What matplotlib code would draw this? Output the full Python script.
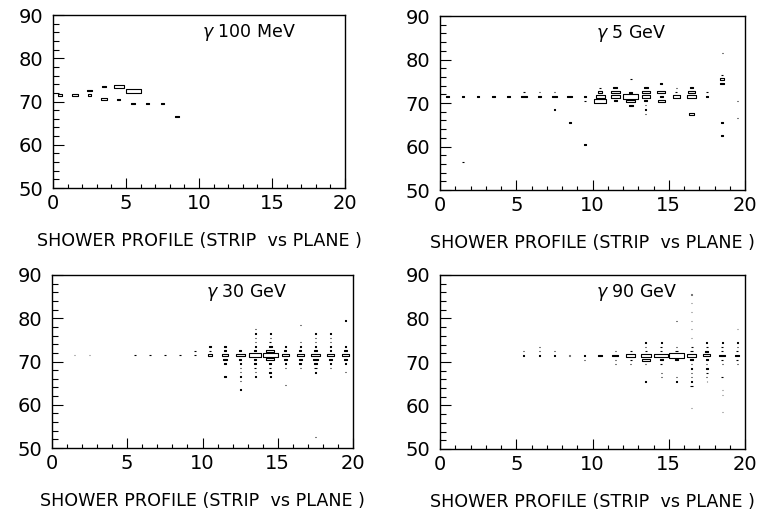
import numpy as np
import matplotlib
matplotlib.use("Agg")
import matplotlib.pyplot as plt
from matplotlib.patches import Rectangle
from matplotlib.collections import PatchCollection
from matplotlib.ticker import MultipleLocator

# (strip bin centre, plane bin centre, content) for each energy
cells_100mev = [
    (0.5, 71.5, 25), (1.5, 71.5, 45), (2.5, 72.5, 30), (2.5, 71.5, 25),
    (3.5, 73.5, 25), (3.5, 70.5, 40), (4.5, 73.5, 70), (4.5, 70.5, 20),
    (5.5, 72.5, 100), (5.5, 69.5, 25), (6.5, 69.5, 20), (7.5, 69.5, 25),
    (8.5, 66.5, 30),
]

cells_5gev = [
    (0.5, 71.5, 15), (1.5, 71.5, 15), (2.5, 71.5, 15), (3.5, 71.5, 15), (4.5, 71.5, 15),
    (1.5, 56.5, 10),
    (5.5, 71.5, 40), (5.5, 72.5, 10),
    (6.5, 71.5, 20), (6.5, 72.5, 8),
    (7.5, 71.5, 35), (7.5, 72.5, 10), (7.5, 68.5, 8),
    (8.5, 71.5, 30), (8.5, 65.5, 12),
    (9.5, 71.5, 15), (9.5, 70.5, 12), (9.5, 60.5, 15),
    (10.5, 73.5, 10), (10.5, 72.5, 30), (10.5, 71.5, 60), (10.5, 70.5, 80),
    (11.5, 73.5, 25), (11.5, 72.5, 55), (11.5, 71.5, 55), (11.5, 70.5, 20),
    (12.5, 75.5, 12), (12.5, 72.5, 20), (12.5, 71.5, 100), (12.5, 70.5, 60), (12.5, 69.5, 25),
    (13.5, 73.5, 25), (13.5, 72.5, 55), (13.5, 71.5, 55), (13.5, 70.5, 20),
    (13.5, 69.5, 8), (13.5, 68.5, 8), (13.5, 67.5, 8),
    (14.5, 74.5, 15), (14.5, 72.5, 55), (14.5, 71.5, 20), (14.5, 70.5, 45),
    (15.5, 73.5, 10), (15.5, 72.5, 12), (15.5, 71.5, 50),
    (16.5, 73.5, 15), (16.5, 72.5, 50), (16.5, 71.5, 55), (16.5, 67.5, 30),
    (17.5, 72.5, 10), (17.5, 71.5, 12),
    (18.5, 81.5, 8), (18.5, 76.5, 10), (18.5, 75.5, 30), (18.5, 74.5, 30),
    (18.5, 65.5, 10), (18.5, 62.5, 10),
    (19.5, 70.5, 8), (19.5, 66.5, 10),
]

cells_30gev = [
    (1.5, 71.5, 5), (2.5, 71.5, 5),
    (5.5, 71.5, 10), (6.5, 71.5, 10), (7.5, 71.5, 10), (8.5, 71.5, 10),
    (9.5, 71.5, 10), (9.5, 72.5, 8),
    (10.5, 73.5, 8), (10.5, 72.5, 8), (10.5, 71.5, 30), (10.5, 68.5, 6),
    (11.5, 73.5, 10), (11.5, 72.5, 15), (11.5, 71.5, 40), (11.5, 70.5, 30),
    (11.5, 69.5, 10), (11.5, 66.5, 8),
    (12.5, 72.5, 15), (12.5, 71.5, 60), (12.5, 70.5, 10), (12.5, 69.5, 8),
    (12.5, 68.5, 8), (12.5, 67.5, 8), (12.5, 66.5, 8), (12.5, 65.5, 8), (12.5, 63.5, 8),
    (13.5, 77.5, 6), (13.5, 76.5, 6), (13.5, 75.5, 6), (13.5, 74.5, 8), (13.5, 73.5, 8),
    (13.5, 72.5, 15), (13.5, 71.5, 80), (13.5, 70.5, 15), (13.5, 69.5, 10),
    (13.5, 68.5, 10), (13.5, 67.5, 8), (13.5, 66.5, 8),
    (14.5, 76.5, 6), (14.5, 75.5, 6), (14.5, 74.5, 10), (14.5, 73.5, 20),
    (14.5, 72.5, 50), (14.5, 71.5, 100), (14.5, 70.5, 50), (14.5, 69.5, 15),
    (14.5, 68.5, 10), (14.5, 67.5, 10), (14.5, 66.5, 8),
    (15.5, 73.5, 8), (15.5, 72.5, 15), (15.5, 71.5, 50), (15.5, 70.5, 20),
    (15.5, 69.5, 10), (15.5, 68.5, 10), (15.5, 64.5, 8),
    (16.5, 78.5, 10), (16.5, 74.5, 6), (16.5, 73.5, 10), (16.5, 72.5, 15),
    (16.5, 71.5, 50), (16.5, 70.5, 20), (16.5, 69.5, 15), (16.5, 68.5, 10),
    (17.5, 76.5, 6), (17.5, 75.5, 6), (17.5, 74.5, 6), (17.5, 73.5, 8),
    (17.5, 72.5, 15), (17.5, 71.5, 55), (17.5, 70.5, 35), (17.5, 69.5, 15),
    (17.5, 68.5, 15), (17.5, 67.5, 10), (17.5, 52.5, 6),
    (18.5, 76.5, 6), (18.5, 75.5, 6), (18.5, 74.5, 6), (18.5, 73.5, 8),
    (18.5, 72.5, 10), (18.5, 71.5, 50), (18.5, 70.5, 25), (18.5, 69.5, 12), (18.5, 68.5, 10),
    (19.5, 79.5, 6), (19.5, 73.5, 10), (19.5, 72.5, 15), (19.5, 71.5, 45),
    (19.5, 70.5, 20), (19.5, 69.5, 10), (19.5, 67.5, 6),
]

cells_90gev = [
    (5.5, 72.5, 6), (5.5, 71.5, 6),
    (6.5, 73.5, 6), (6.5, 72.5, 6), (6.5, 71.5, 6),
    (7.5, 72.5, 8), (7.5, 71.5, 10),
    (8.5, 71.5, 5),
    (9.5, 71.5, 6), (9.5, 70.5, 8),
    (10.5, 71.5, 25),
    (11.5, 72.5, 8), (11.5, 71.5, 40), (11.5, 70.5, 8), (11.5, 69.5, 6),
    (12.5, 72.5, 12), (12.5, 71.5, 60), (12.5, 70.5, 12), (12.5, 69.5, 8),
    (13.5, 74.5, 8), (13.5, 73.5, 8), (13.5, 72.5, 12), (13.5, 71.5, 70),
    (13.5, 70.5, 50), (13.5, 69.5, 8), (13.5, 65.5, 6),
    (14.5, 74.5, 8), (14.5, 73.5, 10), (14.5, 72.5, 15), (14.5, 71.5, 90),
    (14.5, 70.5, 20), (14.5, 69.5, 10), (14.5, 67.5, 8), (14.5, 66.5, 8),
    (15.5, 79.5, 6), (15.5, 73.5, 8), (15.5, 72.5, 15), (15.5, 71.5, 100),
    (15.5, 70.5, 15), (15.5, 66.5, 6), (15.5, 65.5, 6),
    (16.5, 85.5, 5), (16.5, 83.5, 5), (16.5, 81.5, 5), (16.5, 79.5, 5), (16.5, 77.5, 5),
    (16.5, 75.5, 5), (16.5, 73.5, 12), (16.5, 72.5, 15), (16.5, 71.5, 55),
    (16.5, 70.5, 15), (16.5, 69.5, 10), (16.5, 68.5, 10), (16.5, 67.5, 10),
    (16.5, 66.5, 10), (16.5, 65.5, 10), (16.5, 64.5, 15), (16.5, 59.5, 5),
    (17.5, 82.5, 4), (17.5, 80.5, 4), (17.5, 78.5, 4), (17.5, 76.5, 4), (17.5, 74.5, 6),
    (17.5, 73.5, 10), (17.5, 72.5, 20), (17.5, 71.5, 45), (17.5, 70.5, 15),
    (17.5, 69.5, 8), (17.5, 68.5, 10), (17.5, 67.5, 10), (17.5, 66.5, 6),
    (17.5, 65.5, 4), (17.5, 64.5, 4), (17.5, 63.5, 4), (17.5, 62.5, 4),
    (17.5, 61.5, 4), (17.5, 57.5, 4),
    (18.5, 74.5, 8), (18.5, 73.5, 10), (18.5, 72.5, 12), (18.5, 71.5, 40),
    (18.5, 70.5, 12), (18.5, 69.5, 8), (18.5, 66.5, 10), (18.5, 63.5, 5),
    (18.5, 62.5, 5), (18.5, 58.5, 5),
    (19.5, 77.5, 4), (19.5, 74.5, 6), (19.5, 73.5, 8), (19.5, 72.5, 12),
    (19.5, 71.5, 25), (19.5, 70.5, 12), (19.5, 69.5, 6),
]

labels = [r"$\gamma$ 100 MeV", r"$\gamma$ 5 GeV", r"$\gamma$ 30 GeV", r"$\gamma$ 90 GeV"]
xlabel = "SHOWER PROFILE (STRIP  vs PLANE )"

# axes rectangles in pixels (left, top, right, bottom) of a 757x520 figure
W, H = 757, 520
boxes_px = [(53, 15, 345, 188), (440, 16, 745, 190),
            (52, 275, 353, 448), (440, 275, 745, 449)]

plt.rcParams["font.family"] = "DejaVu Sans"
plt.rcParams["mathtext.fontset"] = "dejavusans"

fig = plt.figure(figsize=(W / 100, H / 100), dpi=100)


def box_hist(ax, cells):
    arr = np.array(cells, dtype=float)
    nmax = arr[:, 2].max()
    rects = []
    colors = []
    for x, y, n in arr:
        f = n / nmax
        rects.append(Rectangle((x - f / 2, y - f / 2), f, f))
        colors.append("0.45" if n <= 5 else "black")
    pc = PatchCollection(rects, facecolor="white", edgecolor=colors, linewidth=0.8)
    ax.add_collection(pc)


for (l, t, r, b), cells, lab in zip(boxes_px,
                                     [cells_100mev, cells_5gev, cells_30gev, cells_90gev],
                                     labels):
    ax = fig.add_axes([l / W, 1 - b / H, (r - l) / W, (b - t) / H])
    box_hist(ax, cells)
    ax.set_xlim(0, 20)
    ax.set_ylim(50, 90)
    ax.set_xticks(range(0, 21, 5))
    ax.set_yticks(range(50, 91, 10))
    ax.xaxis.set_minor_locator(MultipleLocator(1))
    ax.yaxis.set_minor_locator(MultipleLocator(2))
    ax.tick_params(which="both", direction="in", width=0.8, labelsize=14)
    ax.tick_params(axis="x", which="major", length=7, pad=4)
    ax.tick_params(axis="x", which="minor", length=3)
    ax.tick_params(axis="y", which="major", length=8, pad=7)
    ax.tick_params(axis="y", which="minor", length=4)
    for s in ax.spines.values():
        s.set_linewidth(1.0)
    ax.text(10.2, 86, lab, fontsize=12.5, ha="left", va="center")
    ax.set_xlabel(xlabel, fontsize=12.6, labelpad=14)

fig.savefig("out.png", dpi=100)
